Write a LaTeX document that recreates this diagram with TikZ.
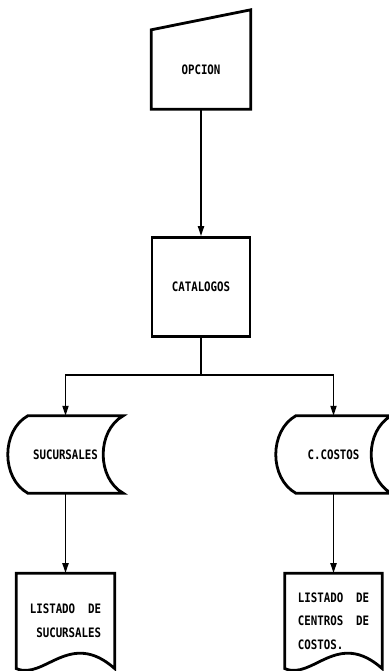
\documentclass[tikz,border=0pt]{standalone}
\usepackage{fontspec}
\newfontfamily\dotfont[FakeStretch=0.83]{DejaVu Sans Mono}
\usetikzlibrary{positioning,arrows.meta}

\tikzset{
  lbl/.style={font=\dotfont\bfseries\fontsize{13}{23.5}\selectfont, inner sep=0pt},
  box/.style={line width=2.8pt},
  wire/.style={line width=1.8pt},
  conn/.style={wire, -{Triangle[length=10pt,width=6pt]}},
}

% stored data outline round a node
\newcommand{\storedshape}[1]{%
  \draw[box] ([xshift=10pt]#1.north west) -- ([xshift=10pt]#1.north east)
    .. controls ([xshift=-16.7pt,yshift=-15pt]#1.north east) and ([xshift=-16.7pt,yshift=15pt]#1.south east) .. ([xshift=10pt]#1.south east)
    -- ([xshift=10pt]#1.south west)
    .. controls ([xshift=-16.7pt,yshift=15pt]#1.south west) and ([xshift=-16.7pt,yshift=-15pt]#1.north west) .. ([xshift=10pt]#1.north west)
    -- cycle;}

% printed document outline round a node
\newcommand{\docshape}[1]{%
  \draw[box] (#1.north west) -- (#1.south west)
    .. controls ([xshift=28pt,yshift=-12pt]#1.south west) and ([xshift=-45pt,yshift=40pt]#1.south east) .. (#1.south east)
    -- (#1.north east) -- cycle;}

\begin{document}
\begin{tikzpicture}[x=1pt,y=1pt]
    \useasboundingbox (0,0) rectangle (388,671);

    \node[lbl, minimum width=99pt, minimum height=79pt] (opcion) at (201,601.5) {OPCION};
    \node[lbl, draw, box, minimum width=98pt, minimum height=99pt, below=127pt of opcion] (catalogos) {CATALOGOS};
    \coordinate[below=37pt of catalogos] (split);

    \node[lbl, minimum width=95pt, minimum height=77pt] (sucursales) at (65.5,216.5) {SUCURSALES};
    \node[lbl, minimum width=95pt, minimum height=77pt] (costos) at (333.5,216.5) {C.COSTOS};

    \node[lbl, align=right, minimum width=98pt, minimum height=95pt, below=80pt of sucursales] (listsuc) {LISTADO~~DE\\SUCURSALES};
    \node[lbl, align=left, minimum width=97pt, minimum height=95pt, below=80pt of costos] (listcc) {LISTADO~~DE\\CENTROS~~DE\\COSTOS.};

    % outlines
    \draw[box] (opcion.north west) -- ([yshift=20pt]opcion.north east) -- (opcion.south east) -- (opcion.south west) -- cycle;
    \storedshape{sucursales}
    \storedshape{costos}
    \docshape{listsuc}
    \docshape{listcc}

    % flow
    \draw[conn] (opcion) -- (catalogos);
    \draw[wire] (catalogos) -- (split);
    \draw[conn] (split) -| (sucursales);
    \draw[conn] (split) -| (costos);
    \draw[conn] (sucursales) -- (listsuc);
    \draw[conn] (costos) -- (listcc);

\end{tikzpicture}
\end{document}
